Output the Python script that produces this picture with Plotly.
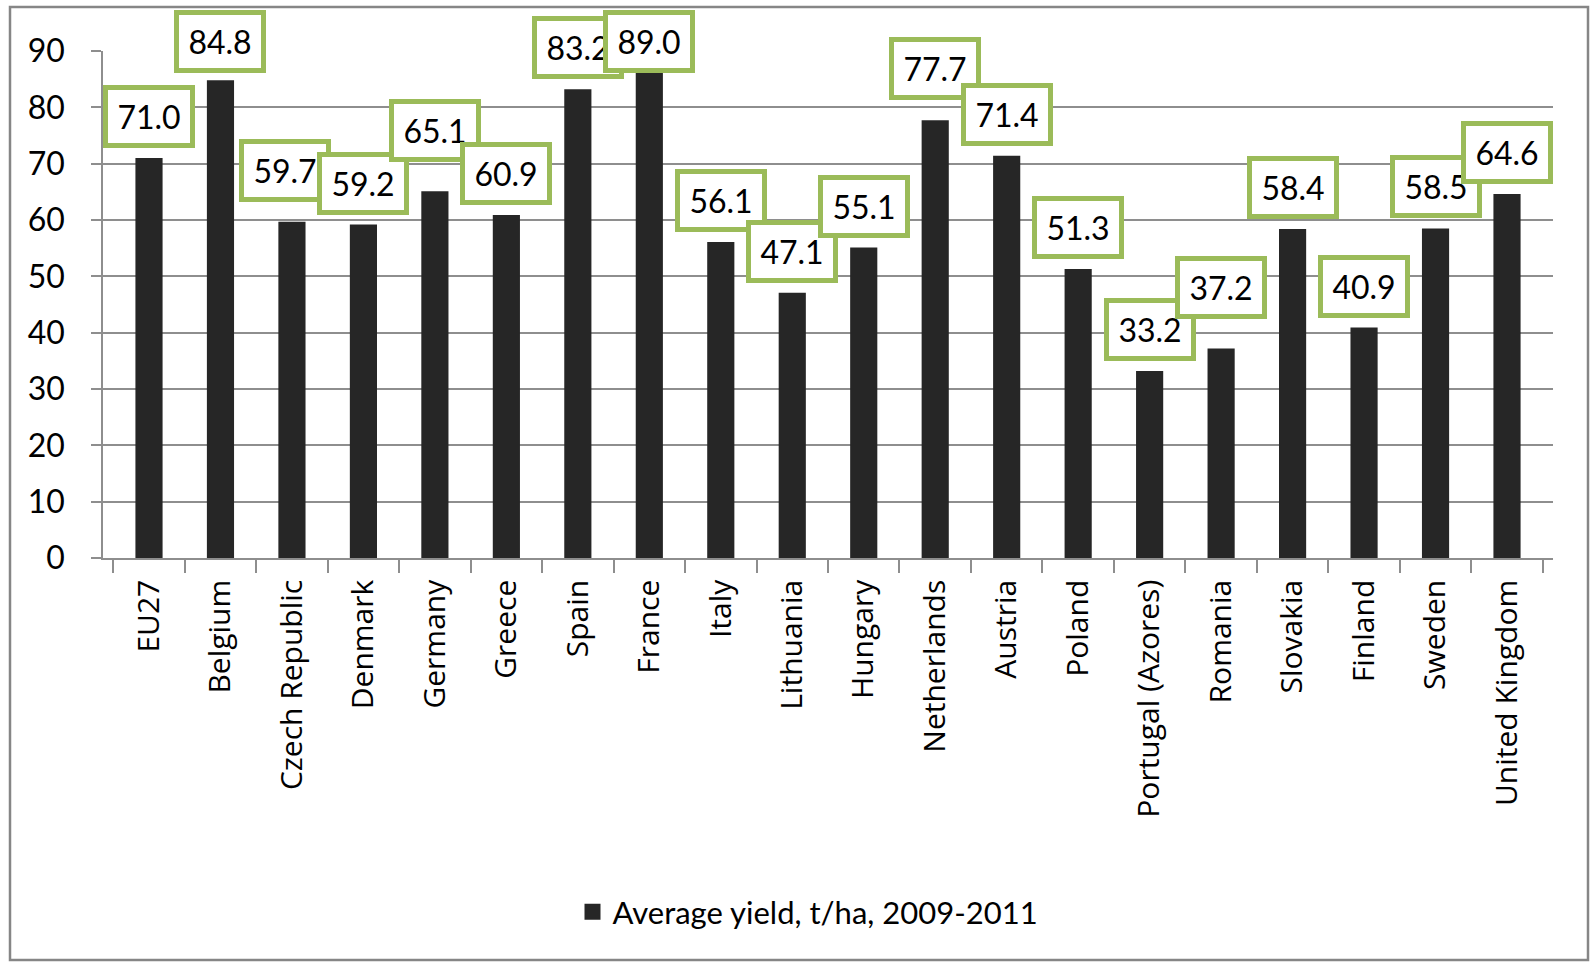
import plotly.graph_objects as go

# ---- data ----
countries = ["EU27", "Belgium", "Czech Republic", "Denmark", "Germany", "Greece",
             "Spain", "France", "Italy", "Lithuania", "Hungary", "Netherlands",
             "Austria", "Poland", "Portugal (Azores)", "Romania", "Slovakia",
             "Finland", "Sweden", "United Kingdom"]
avg_yield = [71.0, 84.8, 59.7, 59.2, 65.1, 60.9, 83.2, 89.0, 56.1, 47.1,
             55.1, 77.7, 71.4, 51.3, 33.2, 37.2, 58.4, 40.9, 58.5, 64.6]
series_name = "Average yield, t/ha, 2009-2011"
y_ticks = [0, 10, 20, 30, 40, 50, 60, 70, 80, 90]

# ---- layout geometry (pixels) ----
W, H = 1593, 967
ML, MR, MT, MB = 103, 40, 51, 409
plot_h = H - MT - MB
y_max = 90

BAR = "#262626"
GRID = "#8E8E8E"
GREEN = "#9BBB59"
FONT = "Lato, 'Open Sans', sans-serif"

fig = go.Figure()
fig.add_trace(go.Bar(
    x=countries, y=avg_yield, name=series_name,
    marker=dict(color=BAR, line=dict(width=0)),
    showlegend=False, legendgroup="s",
))
# legend entry with a larger square swatch, like the original
fig.add_trace(go.Scatter(
    x=[None], y=[None], mode="markers", name=series_name, legendgroup="s",
    marker=dict(symbol="square", size=17, color=BAR), showlegend=True,
))

# label boxes (manual nudges as in the original, in pixels: dx, dy up)
label_nudges = {"Czech Republic": (-7, 10), "Germany": (0, 19),
                "Netherlands": (0, 10), "Romania": (0, 19)}
box_h = 63
top_limit = 10
annotations = []
for c, v in zip(countries, avg_yield):
    dx, dy = label_nudges.get(c, (0, 0))
    bartop_px = MT + plot_h * (1 - v / y_max)
    yshift = 10 + dy
    max_shift = bartop_px - (top_limit + box_h)
    yshift = min(yshift, max_shift)
    annotations.append(dict(
        x=c, y=v, xref="x", yref="y", text=f"{v:.1f}",
        showarrow=False, yanchor="bottom", xanchor="center",
        xshift=dx, yshift=yshift,
        font=dict(family=FONT, size=32, color="black"),
        bgcolor="white", bordercolor=GREEN, borderwidth=5, borderpad=8,
        width=66, height=37,
    ))

pw = W - ML - MR
def px_x(p):
    return (p - ML) / pw
def px_y(p):
    return (MT + plot_h - p) / plot_h

fig.update_layout(
    width=W, height=H,
    margin=dict(l=ML, r=MR, t=MT, b=MB, pad=0),
    paper_bgcolor="white", plot_bgcolor="white",
    bargap=0.62,
    font=dict(family=FONT, size=31, color="black"),
    annotations=annotations,
    showlegend=True,
    legend=dict(orientation="h", x=px_x(808), y=px_y(912), xanchor="center",
                yanchor="middle", font=dict(family=FONT, size=31, color="black"),
                bgcolor="rgba(0,0,0,0)", itemwidth=30),
    shapes=[dict(type="rect", xref="paper", yref="paper",
                 x0=px_x(10), x1=px_x(1588), y0=px_y(960), y1=px_y(7),
                 line=dict(color="#868686", width=2.5), fillcolor="rgba(0,0,0,0)",
                 layer="below")],
)

fig.update_xaxes(
    type="category", showgrid=False, showline=True, linecolor=GRID, linewidth=1.5,
    ticks="outside", tickson="boundaries", ticklen=13, tickcolor=GRID, tickwidth=1.5,
    tickangle=-90, tickfont=dict(family="'Open Sans', sans-serif", size=30, color="black"),
    ticklabelstandoff=8,
)
fig.update_yaxes(
    range=[0, y_max], tickvals=y_ticks, ticktext=[str(t) for t in y_ticks],
    showgrid=True, gridcolor=GRID, gridwidth=1.5,
    showline=True, linecolor=GRID, linewidth=1.5,
    ticks="outside", ticklen=10, tickcolor=GRID, tickwidth=1.5,
    tickfont=dict(family=FONT, size=32, color="black"),
    ticklabelstandoff=20, zeroline=False,
)

fig.write_html("out.html")
